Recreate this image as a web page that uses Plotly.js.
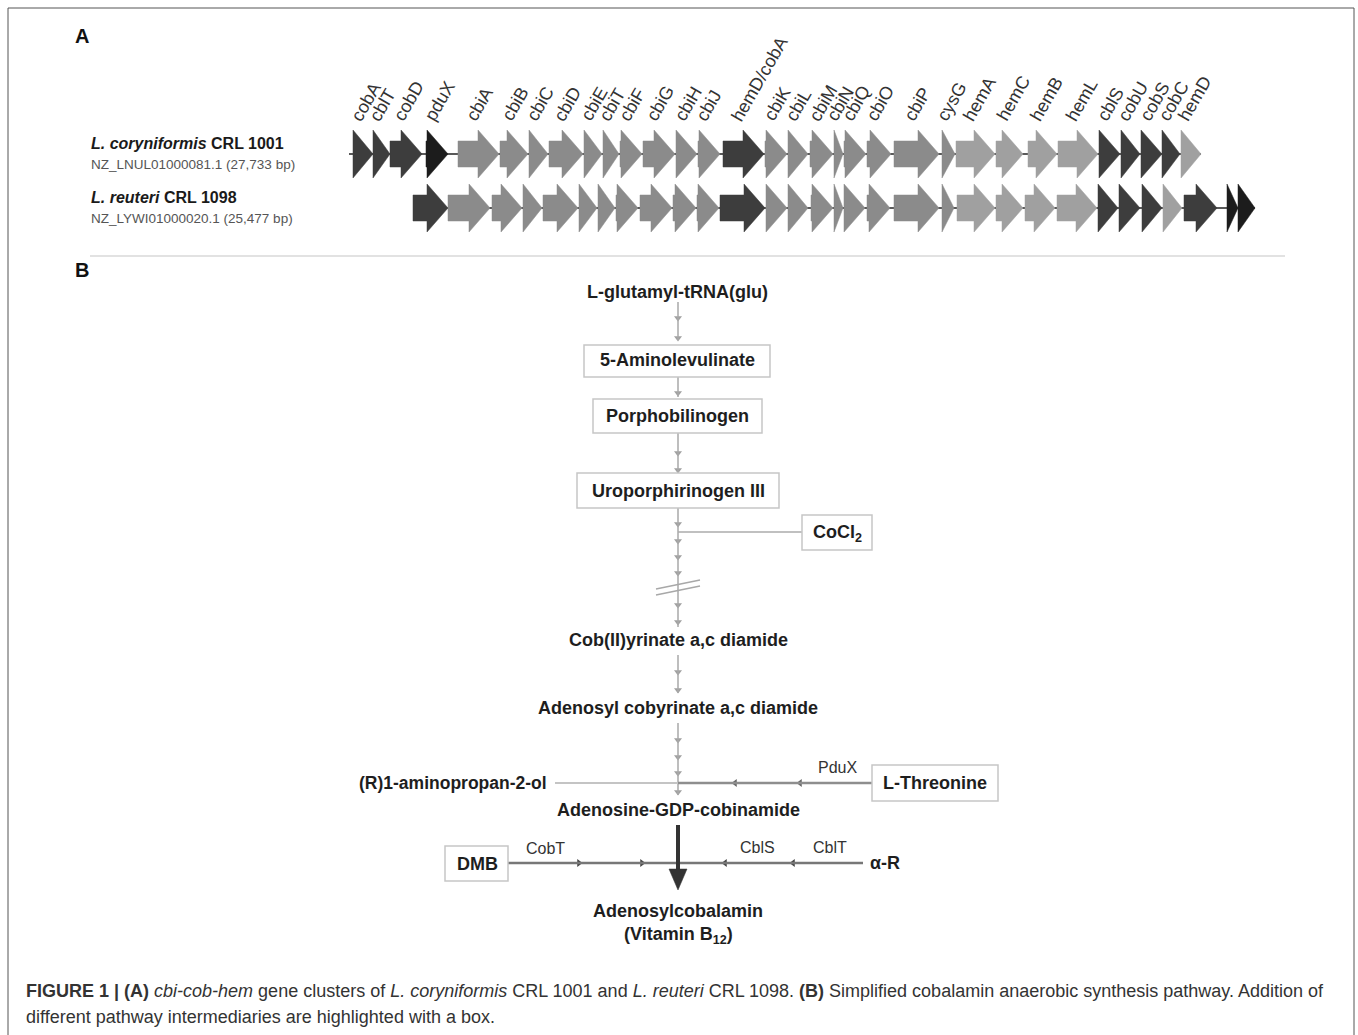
<!DOCTYPE html>
<html><head><meta charset="utf-8">
<script src="https://cdn.plot.ly/plotly-3.0.1.min.js"></script>
<style>html,body{margin:0;padding:0;background:#fff}#fig{width:1358px;height:1035px}</style>
</head><body><div id="fig"></div>
<script>
// ---------- Panel A: gene clusters ----------
const row1Genes = ['cobA','cblT','cobD','pduX','cbiA','cbiB','cbiC','cbiD','cbiE','cbiT','cbiF','cbiG','cbiH','cbiJ','hemD/cobA','cbiK','cbiL','cbiM','cbiN','cbiQ','cbiO','cbiP','cysG','hemA','hemC','hemB','hemL','cblS','cobU','cobS','cobC','hemD'];
const row1Start = [353,373,390,426,458,500,529,549,584,603,620,643,676,698,723,765,788,810,834,844,867,894,942,956,996,1028,1058,1099,1121,1141,1162,1181];
const row1End   = [373,390,422,448,499,528,548,583,602,619,642,675,697,720,764,787,808,833,843,866,891,939,955,995,1023,1057,1098,1120,1140,1162,1180,1201];
const row1Shade = ['d','d','d','k','m','m','m','m','m','m','m','m','m','m','d','m','m','m','m','m','m','m','m','l','l','l','l','d','d','d','d','l'];
const row1Line  = [349,1201];

const row2Start = [413,448,492,523,543,579,598,616,640,673,697,720,766,788,811,834,844,867,894,942,957,996,1025,1057,1098,1119,1142,1163,1184,1227,1238];
const row2End   = [448,490,522,542,578,597,615,638,672,696,719,765,787,808,833,843,865,890,939,954,995,1023,1055,1097,1118,1140,1162,1182,1217,1238,1255];
const row2Shade = ['d','m','m','m','m','m','m','m','m','m','m','d','m','m','m','m','m','m','m','m','l','l','l','l','d','d','d','l','d','k','k'];
const row2Line  = [413,1255];

const strainNames = ['<b><i>L. coryniformis</i> CRL 1001</b>','<b><i>L. reuteri</i> CRL 1098</b>'];
const strainAcc   = ['NZ_LNUL01000081.1 (27,733 bp)','NZ_LYWI01000020.1 (25,477 bp)'];

// ---------- Panel B: pathway ----------
const nodeLabels = ['L-glutamyl-tRNA(glu)','5-Aminolevulinate','Porphobilinogen','Uroporphirinogen III','CoCl<sub>2</sub>',
  'Cob(II)yrinate a,c diamide','Adenosyl cobyrinate a,c diamide','L-Threonine','Adenosine-GDP-cobinamide','DMB','α-R',
  'Adenosylcobalamin','(Vitamin B<sub>12</sub>)'];
const nodeX = [677,677,677,678,837,678,678,935,678,477,885,678,678];
const nodeY = [292,360,416,491,533,640,708,783,810,864,863,911,935];
const boxedNodes = ['5-Aminolevulinate','Porphobilinogen','Uroporphirinogen III','CoCl<sub>2</sub>','L-Threonine','DMB'];
const boxX0 = [584,593,577,802,872,445];
const boxX1 = [770,762,779,872,998,508];
const boxY0 = [345,399,473,515,765,846];
const boxY1 = [377,433,508,550,801,881];
const enzymeLabels = ['PduX','CobT','CblS','CblT'];
const enzymeX = [837,545,757,830];
const enzymeY = [767,848,847,847];

const shadeColor = {k:'#1c1c1c', d:'#3d3d3d', m:'#8b8b8b', l:'#a0a0a0'};
const FONT = 'Liberation Sans, Arial, Helvetica, sans-serif';

const shapes = [];
const annotations = [];
const traces = [];

// frame and separator
shapes.push({type:'rect', xref:'x', yref:'y', x0:8, x1:1354, y0:8, y1:1045, line:{color:'#555', width:1}, fillcolor:'rgba(0,0,0,0)'});
shapes.push({type:'line', xref:'x', yref:'y', x0:90, x1:1285, y0:256, y1:256, line:{color:'#e2e2e2', width:2}});

function geneArrow(s, e, c, color) {
  const H = Math.min(21, e - s), hh = 24, bh = 13;
  let p;
  if (e - s > H) {
    p = `M${s},${c-bh} L${e-H},${c-bh} L${e-H},${c-hh} L${e},${c} L${e-H},${c+hh} L${e-H},${c+bh} L${s},${c+bh} Z`;
  } else {
    p = `M${s},${c-hh} L${e},${c} L${s},${c+hh} Z`;
  }
  return {type:'path', xref:'x', yref:'y', path:p, fillcolor:color, line:{color:color, width:0.5}};
}

function drawRow(starts, ends, shades, line, c) {
  shapes.push({type:'line', xref:'x', yref:'y', x0:line[0], x1:line[1], y0:c, y1:c, line:{color:'#222', width:1.5}});
  for (let i = 0; i < starts.length; i++) shapes.push(geneArrow(starts[i], ends[i], c, shadeColor[shades[i]]));
}
const rowY = [154, 208];
drawRow(row1Start, row1End, row1Shade, row1Line, rowY[0]);
drawRow(row2Start, row2End, row2Shade, row2Line, rowY[1]);

// gene labels
for (let i = 0; i < row1Genes.length; i++) {
  annotations.push({x:(row1Start[i]+row1End[i])/2, y:127, xref:'x', yref:'y', xanchor:'left', yanchor:'bottom',
    xshift:-19, textangle:-60, text:row1Genes[i], showarrow:false, font:{family:FONT, size:18, color:'#333'}});
}
// strain labels
for (let i = 0; i < 2; i++) {
  annotations.push({x:89, y:rowY[i]-11, xref:'x', yref:'y', xanchor:'left', yanchor:'middle', text:strainNames[i], showarrow:false,
    font:{family:FONT, size:16, color:'#1a1a1a'}});
  annotations.push({x:89, y:rowY[i]+10, xref:'x', yref:'y', xanchor:'left', yanchor:'middle', text:strainAcc[i], showarrow:false,
    font:{family:FONT, size:13.5, color:'#555'}});
}
// panel letters
annotations.push({x:73, y:36, xref:'x', yref:'y', xanchor:'left', yanchor:'middle', text:'<b>A</b>', showarrow:false, font:{family:FONT, size:20, color:'#111'}});
annotations.push({x:73, y:270, xref:'x', yref:'y', xanchor:'left', yanchor:'middle', text:'<b>B</b>', showarrow:false, font:{family:FONT, size:20, color:'#111'}});

// ---------- pathway lines ----------
const vX = 678;
const vSegY0 = [302,377,433,508,655,723];
const vSegY1 = [340,397,473,627,693,795];
for (let i = 0; i < vSegY0.length; i++)
  shapes.push({type:'line', xref:'x', yref:'y', x0:vX, x1:vX, y0:vSegY0[i], y1:vSegY1[i], line:{color:'#a8a8a8', width:1.5}});
const vArrowY = [318,338,393,453,470,524,541,557,573,605,622,672,690,740,757,773,792];
traces.push({type:'scatter', mode:'markers', x:vArrowY.map(()=>vX), y:vArrowY, hoverinfo:'skip',
  marker:{symbol:'triangle-down', size:7, color:'#a0a0a0'}});
// break marks
shapes.push({type:'line', xref:'x', yref:'y', x0:656, x1:700, y0:589, y1:580, line:{color:'#a8a8a8', width:1.5}});
shapes.push({type:'line', xref:'x', yref:'y', x0:656, x1:700, y0:595, y1:586, line:{color:'#a8a8a8', width:1.5}});
// CoCl2 connector
shapes.push({type:'line', xref:'x', yref:'y', x0:678, x1:802, y0:532, y1:532, line:{color:'#ababab', width:1.5}});
// threonine branch
shapes.push({type:'line', xref:'x', yref:'y', x0:555, x1:678, y0:783, y1:783, line:{color:'#c4c4c4', width:2}});
shapes.push({type:'line', xref:'x', yref:'y', x0:678, x1:872, y0:783, y1:783, line:{color:'#8e8e8e', width:2.5}});
traces.push({type:'scatter', mode:'markers', x:[735,800], y:[783,783], hoverinfo:'skip',
  marker:{symbol:'triangle-left', size:7, color:'#666'}});
// DMB / alpha-R branch
shapes.push({type:'line', xref:'x', yref:'y', x0:508, x1:863, y0:863, y1:863, line:{color:'#777', width:2.5}});
traces.push({type:'scatter', mode:'markers', x:[579,642], y:[863,863], hoverinfo:'skip',
  marker:{symbol:'triangle-right', size:7, color:'#444'}});
traces.push({type:'scatter', mode:'markers', x:[725,793], y:[863,863], hoverinfo:'skip',
  marker:{symbol:'triangle-left', size:7, color:'#444'}});
// thick main arrow
shapes.push({type:'line', xref:'x', yref:'y', x0:678, x1:678, y0:825, y1:872, line:{color:'#333', width:4}});
shapes.push({type:'path', xref:'x', yref:'y', path:'M669,869 L687,869 L678,890 Z', fillcolor:'#333', line:{color:'#333', width:0.5}});

// boxes
for (let i = 0; i < boxedNodes.length; i++)
  shapes.push({type:'rect', xref:'x', yref:'y', x0:boxX0[i], x1:boxX1[i], y0:boxY0[i], y1:boxY1[i],
    line:{color:'#c6c6c6', width:1.5}, fillcolor:'#ffffff', layer:'above'});

// node texts
for (let i = 0; i < nodeLabels.length; i++) {
  annotations.push({x:nodeX[i], y:nodeY[i], xref:'x', yref:'y', xanchor:'center', yanchor:'middle', text:'<b>'+nodeLabels[i]+'</b>',
    showarrow:false, font:{family:FONT, size:18, color:'#1e1e1e'}});
}
annotations.push({x:549, y:783, xref:'x', yref:'y', xanchor:'right', yanchor:'middle', text:'<b>(R)1-aminopropan-2-ol</b>',
  showarrow:false, font:{family:FONT, size:17.5, color:'#1e1e1e'}});
for (let i = 0; i < enzymeLabels.length; i++)
  annotations.push({x:enzymeX[i], y:enzymeY[i], xref:'x', yref:'y', xanchor:'center', yanchor:'middle', text:enzymeLabels[i],
    showarrow:false, font:{family:FONT, size:16, color:'#333'}});

// caption
const captionLines = [
  '<b>FIGURE 1 | (A)</b> <i>cbi-cob-hem</i> gene clusters of <i>L. coryniformis</i> CRL 1001 and <i>L. reuteri</i> CRL 1098. <b>(B)</b> Simplified cobalamin anaerobic synthesis pathway. Addition of',
  'different pathway intermediaries are highlighted with a box.'
];
const captionY = [991, 1017];
for (let i = 0; i < captionLines.length; i++)
  annotations.push({x:24, y:captionY[i], xref:'x', yref:'y', xanchor:'left', yanchor:'middle', text:captionLines[i],
    showarrow:false, font:{family:FONT, size:18, color:'#333'}});

const layout = {
  width:1358, height:1035, margin:{l:0, r:0, t:0, b:0},
  paper_bgcolor:'#fff', plot_bgcolor:'#fff', showlegend:false,
  xaxis:{range:[0,1358], visible:false, fixedrange:true},
  yaxis:{range:[1035,0], visible:false, fixedrange:true},
  shapes:shapes, annotations:annotations
};
Plotly.newPlot('fig', traces, layout, {displayModeBar:false, staticPlot:true});
</script></body></html>
